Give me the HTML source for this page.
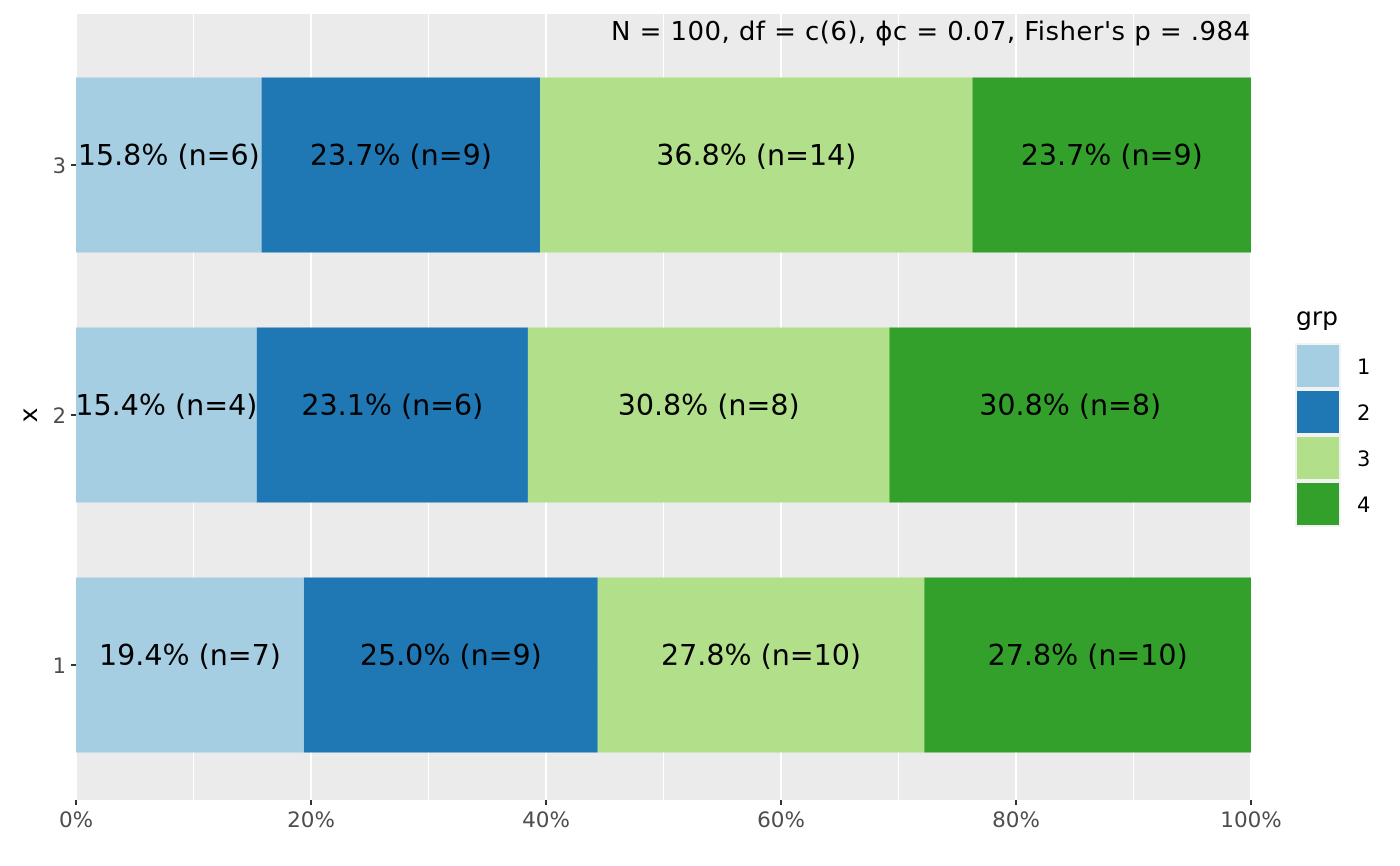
<!DOCTYPE html>
<html><head><meta charset="utf-8"><style>
body{margin:0;background:#fff;}
svg{display:block;font-family:"DejaVu Sans","Liberation Sans",sans-serif;}
</style></head><body>
<svg id="c" width="1400" height="866"></svg>
<script>
const categories=["1","2","3"];
const groups=["1","2","3","4"];
const pct1=[19.4,25.0,27.8,27.8];
const pct2=[15.4,23.1,30.8,30.8];
const pct3=[15.8,23.7,36.8,23.7];
const counts1=[7,9,10,10];
const counts2=[4,6,8,8];
const counts3=[6,9,14,9];
const xTicks=[0,20,40,60,80,100];
const colors=["#a6cee3","#1f78b4","#b2df8a","#33a02c"];
const rows=[pct1,pct2,pct3];
const cnts=[counts1,counts2,counts3];
const NS="http://www.w3.org/2000/svg";
const svg=document.getElementById('c');
const L=76,R=1251,T=14,B=800;
const xs=v=>L+(R-L)*v/100;
const ys=i=>665-250*i;
function el(t,a,p){const e=document.createElementNS(NS,t);for(const k in a)e.setAttribute(k,a[k]);(p||svg).appendChild(e);return e;}
const bg=el('rect',{x:L,y:T,width:R-L,height:B-T,fill:'#ebebeb'});


for(let v=10;v<100;v+=20){const g=el('line',{x1:xs(v),x2:xs(v),y1:T,y2:B,stroke:'#fff','stroke-width':1});

}
xTicks.forEach(v=>{const g=el('line',{x1:xs(v),x2:xs(v),y1:T,y2:B,stroke:'#fff','stroke-width':2});

});
categories.forEach((c,i)=>{const g=el('line',{x1:L,x2:R,y1:ys(i),y2:ys(i),stroke:'#fff','stroke-width':2});

});
rows.forEach((r,i)=>{let acc=0;const tot=r.reduce((a,b)=>a+b,0);
r.forEach((v,j)=>{const v0=acc/tot*100,v1=(acc+v)/tot*100;acc+=v;
const b=el('rect',{x:xs(v0),y:ys(i)-87.5,width:xs(v1)-xs(v0),height:175,fill:colors[j]});


const t=el('text',{x:(xs(v0)+xs(v1))/2,y:ys(i)+0,'text-anchor':'middle','font-size':28.5,fill:'#000'});
t.textContent=v.toFixed(1)+'% (n='+cnts[i][j]+')';

});
const tk=el('line',{x1:L-5,x2:L,y1:ys(i),y2:ys(i),stroke:'#333','stroke-width':2});


const tl=el('text',{x:L-10,y:ys(i)+8,'text-anchor':'end','font-size':21,fill:'#4d4d4d'});
tl.textContent=categories[i];

});
xTicks.forEach(v=>{const tk=el('line',{x1:xs(v),x2:xs(v),y1:B,y2:B+5,stroke:'#333','stroke-width':2});


const tl=el('text',{x:xs(v),y:B+27,'text-anchor':'middle','font-size':21.5,fill:'#4d4d4d'});
tl.textContent=v+'%';

});
const yt=el('text',{x:37,y:415,'text-anchor':'middle','font-size':25,fill:'#000',transform:'rotate(-90 37 415)'});
yt.textContent='x';


const st=el('text',{x:1250,y:40,'text-anchor':'end','font-size':26,fill:'#000','xml:space':'preserve'});
st.textContent="N = 100,  df = c(6),  \u03D5c = 0.07,  Fisher's p = .984";
st.setAttribute('textLength','639');


const lt=el('text',{x:1296,y:325,'font-size':25,fill:'#000'});
lt.textContent='grp';


groups.forEach((g,j)=>{const y=344+46*j;
const k=el('rect',{x:1296,y:y,width:44,height:44,fill:colors[j],stroke:'#f2f2f2','stroke-width':2});


const t=el('text',{x:1357,y:y+30,'font-size':21,fill:'#000'});
t.textContent=g;

});
</script>
</body></html>
